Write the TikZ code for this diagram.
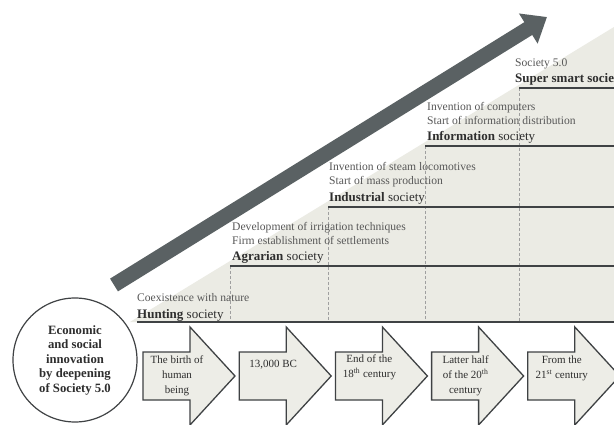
\documentclass[tikz,border=0pt]{standalone}
\usepackage{fontspec}
\setmainfont{Liberation Serif}
\usetikzlibrary{arrows.meta}
\definecolor{bgfill}{HTML}{EBEBE4}
\definecolor{steplinec}{HTML}{3F4244}
\definecolor{bigarrowc}{HTML}{5A6163}
\definecolor{txt}{HTML}{2E2E2E}
\definecolor{blockfill}{HTML}{EDEDE7}
\begin{document}
\begin{tikzpicture}[x=1pt,y=-1pt,
  smalltxt/.style={anchor=base west, inner sep=0pt, text=txt!80, font=\fontsize{11.6}{14}\selectfont},
  titletxt/.style={anchor=base west, inner sep=0pt, text=txt, font=\fontsize{13}{14}\selectfont},
  steprule/.style={draw=steplinec, line width=2.4pt},
  dashrule/.style={draw=gray!75, line width=0.6pt, dash pattern=on 3pt off 2pt},
  blockarrow/.style={draw=steplinec, line width=1.3pt, fill=blockfill, line join=miter},
  blocktext/.style={anchor=north, align=center, inner sep=0pt, text=txt, font=\fontsize{11}{15}\selectfont},
  bigarrowst/.style={draw=bigarrowc, line width=15pt, -{Triangle[length=22pt 0, width=34pt 0]}},
  econcircle/.style={circle, draw=steplinec, line width=1.2pt, minimum size=124pt, inner sep=0pt, align=center, text=txt, font=\bfseries\fontsize{12.7}{14.5}\selectfont},
]
\useasboundingbox (0,0) rectangle (614,425);
\clip (0,0) rectangle (614,425);
\fill[white] (0,0) rectangle (614,425);
% grey background wedge
\fill[bgfill] (130,322) -- (614,27) -- (614,322) -- cycle;

% step levels
\coordinate (h0) at (137,322); \coordinate (h1) at (614,322);
\coordinate (a0) at (230,266); \coordinate (a1) at (614,266);
\coordinate (i0) at (328,207); \coordinate (i1) at (614,207);
\coordinate (n0) at (425,146); \coordinate (n1) at (614,146);
\coordinate (s0) at (519,88);  \coordinate (s1) at (614,88);

% dashed separators
\draw[dashrule] (a0) -- (a0 |- h0);
\draw[dashrule] (i0) -- (i0 |- h0);
\draw[dashrule] (n0) -- (n0 |- h0);
\draw[dashrule] (s0) -- (s0 |- h0);

% step rules
\draw[steprule] (h0) -- (h1);
\draw[steprule] (a0) -- (a1);
\draw[steprule] (i0) -- (i1);
\draw[steprule] (n0) -- (n1);
\draw[steprule] (s0) -- (s1);

% texts
\node[smalltxt] (hunt1) at (137,301.5) {Coexistence with nature};
\node[titletxt] (huntt) at (137,318) {\textbf{Hunting} society};

\node[smalltxt] (agr1) at (232,230.5) {Development of irrigation techniques};
\node[smalltxt] (agr2) at (232,244.5) {Firm establishment of settlements};
\node[titletxt] (agrt) at (232,261) {\textbf{Agrarian} society};

\node[smalltxt] (ind1) at (329,170.5) {Invention of steam locomotives};
\node[smalltxt] (ind2) at (329,184.5) {Start of mass production};
\node[titletxt] (indt) at (329,201.5) {\textbf{Industrial} society};

\node[smalltxt] (inf1) at (427,110.5) {Invention of computers};
\node[smalltxt] (inf2) at (427,124.5) {Start of information distribution};
\node[titletxt] (inft) at (427,141) {\textbf{Information} society};

\node[smalltxt] (sup1) at (515,66.5) {Society 5.0};
\node[titletxt] (supt) at (515,83) {\textbf{Super smart society}};

% big rising arrow
\coordinate (bigtail) at (114,285);
\coordinate (bigtip) at (547,17);
\draw[bigarrowst] (bigtail) -- (bigtip);

% circle
\node[econcircle] (econ) at (75,360) {Economic\\and social\\innovation\\by deepening\\of Society 5.0};

% timeline block arrows
\foreach \i/\lab/\ty in {0/{The birth of\\human\\being}/356,
                       1/{13,000 BC}/360,
                       2/{End of the\\18\textsuperscript{th} century}/355,
                       3/{Latter half\\of the 20\textsuperscript{th}\\century}/356,
                       4/{From the\\21\textsuperscript{st} century}/356} {
  \pgfmathsetmacro{\L}{143+96.2*\i}
  \draw[blockarrow] (\L,352) -- ({\L+47},352) -- ({\L+47},327) -- ({\L+92},376)
        -- ({\L+47},425) -- ({\L+47},400) -- (\L,400) -- cycle;
  \node[blocktext] (ba\i) at ({\L+34},\ty) {\lab};
}
\end{tikzpicture}
\end{document}
